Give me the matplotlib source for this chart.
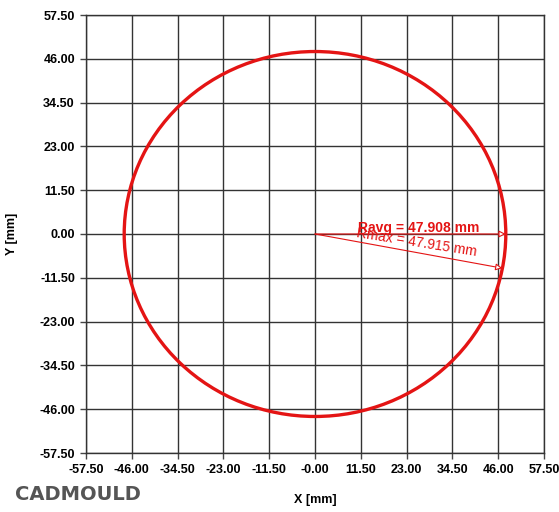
import numpy as np
import matplotlib.pyplot as plt
from matplotlib.patches import Circle

ticks = [-57.5, -46.0, -34.5, -23.0, -11.5, 0.0, 11.5, 23.0, 34.5, 46.0, 57.5]
tick_labels = ['-57.50', '-46.00', '-34.50', '-23.00', '-11.50', '-0.00',
               '11.50', '23.00', '34.50', '46.00', '57.50']
y_tick_labels = ['-57.50', '-46.00', '-34.50', '-23.00', '-11.50', '0.00',
                 '11.50', '23.00', '34.50', '46.00', '57.50']

r_avg = 47.908
r_max = 47.915
r_max_angle = -10.8  # degrees

red = '#e41414'
plt.rcParams['font.family'] = ['Liberation Sans', 'DejaVu Sans']

fig = plt.figure(figsize=(5.59, 5.12), dpi=100)
ax = fig.add_axes([86 / 559, 1 - 453 / 512, 458 / 559, 438 / 512])

ax.set_xlim(-57.5, 57.5)
ax.set_ylim(-57.5, 57.5)
ax.set_xticks(ticks)
ax.set_yticks(ticks)
ax.set_xticklabels(tick_labels, fontweight='bold', fontsize=9)
ax.set_yticklabels(y_tick_labels, fontweight='bold', fontsize=9)
ax.tick_params(length=4, width=1, color='#444444', pad=4)
ax.grid(True, color='#333333', linewidth=1)
for s in ax.spines.values():
    s.set_color('#333333')
    s.set_linewidth(1)

ax.add_patch(Circle((0, 0), r_avg, fill=False, ec=red, lw=2.4, zorder=3))

# Ravg line
ax.annotate('', xy=(r_avg, 0), xytext=(0, 0),
            arrowprops=dict(arrowstyle='-|>', color=red, fc='white', lw=0.8,
                            mutation_scale=10, shrinkA=0, shrinkB=0), zorder=4)
# Rmax line
a = np.deg2rad(r_max_angle)
ax.annotate('', xy=(r_max * np.cos(a), r_max * np.sin(a)), xytext=(0, 0),
            arrowprops=dict(arrowstyle='-|>', color=red, fc='white', lw=0.8,
                            mutation_scale=10, shrinkA=0, shrinkB=0), zorder=4)

ax.text(10.8, 0.6, f'Ravg = {r_avg:.3f} mm', color=red, fontsize=10,
        fontweight='bold', ha='left', va='baseline', zorder=5)
ax.text(10.8, 2.0, f'Rmax = {r_max:.3f} mm', color=red, fontsize=10,
        ha='left', va='top', rotation=-9, rotation_mode='anchor', zorder=5)

fig.text(12 / 559, 1 - 234 / 512, 'Y [mm]', rotation=90, fontweight='bold',
         fontsize=9, ha='center', va='center')
fig.text(315 / 559, 1 - 500 / 512, 'X [mm]', fontweight='bold',
         fontsize=9, ha='center', va='center')
fig.text(15 / 559, 1 - 494 / 512, 'CADMOULD', color='#555555', fontsize=14,
         fontweight='bold', family='DejaVu Sans', ha='left', va='center')

fig.savefig('out.png', dpi=100)
